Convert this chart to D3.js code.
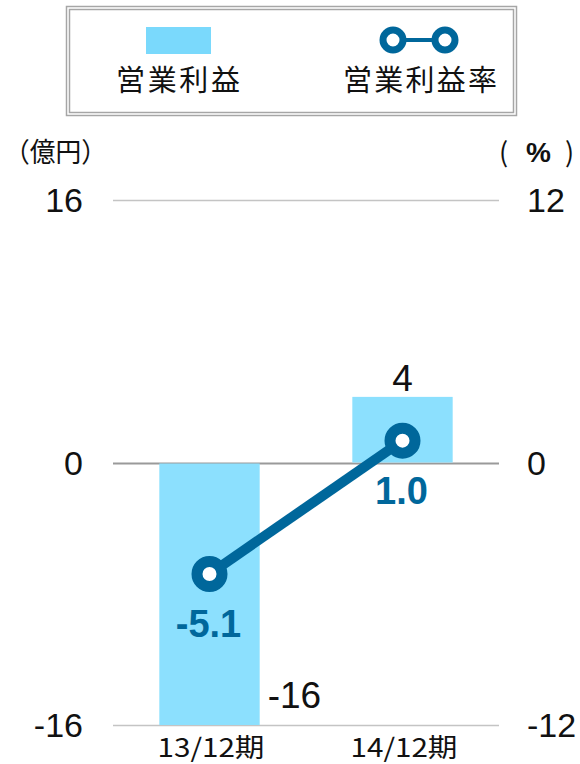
<!DOCTYPE html>
<html>
<head>
<meta charset="utf-8">
<script src="https://cdn.jsdelivr.net/npm/d3@7"></script>
<style>
  html, body { margin: 0; padding: 0; background: #fff; }
  svg { display: block; }
</style>
</head>
<body>
<svg id="chart" width="580" height="764"></svg>
<script>
// Operating profit (億円) and operating margin (%) by fiscal period
const categories = ["13/12期", "14/12期"];
const profit = [-16, 4];
const margin = [-5.1, 1.0];
const leftTicks = [-16, 0, 16];
const rightTicks = [-12, 0, 12];
const seriesNames = ["営業利益", "営業利益率"];

const barColor = "#8ce0fe";
const lineColor = "#00679b";
const numFont = "'Liberation Sans', Arial, sans-serif";
const cjkFont = "'Noto Sans CJK JP', sans-serif";

const svg = d3.select("#chart");

const plot = { left: 113, right: 499, top: 200, bottom: 725 };

const x = d3.scaleBand()
  .domain(categories)
  .range([plot.left, plot.right])
  .paddingInner(0.48)
  .paddingOuter(0.24);

const yL = d3.scaleLinear().domain([-16, 16]).range([plot.bottom, plot.top]);
const yR = d3.scaleLinear().domain([-12, 12]).range([plot.bottom, plot.top]);

// Legend frame (double border)
const lg = svg.append("g");
lg.append("rect").attr("x", 66.5).attr("y", 6.5).attr("width", 450).attr("height", 109)
  .attr("fill", "#fff").attr("stroke", "#a6a6a6").attr("stroke-width", 1.5);
lg.append("rect").attr("x", 69.5).attr("y", 9.5).attr("width", 444).attr("height", 103)
  .attr("fill", "none").attr("stroke", "#a6a6a6").attr("stroke-width", 1.5);

lg.append("rect").attr("x", 146).attr("y", 27).attr("width", 65).attr("height", 27)
  .attr("fill", "#7ad9fc");
lg.append("text").attr("x", 116).attr("y", 91)
  .attr("font-family", cjkFont).attr("font-size", 29).attr("fill", "#111")
  .attr("textLength", 124).attr("lengthAdjust", "spacing")
  .text(seriesNames[0]);

lg.append("line").attr("x1", 393).attr("x2", 445).attr("y1", 40).attr("y2", 40)
  .attr("stroke", lineColor).attr("stroke-width", 4);
[393, 445].forEach(cx => {
  lg.append("circle").attr("cx", cx).attr("cy", 40).attr("r", 10)
    .attr("fill", "#fff").attr("stroke", lineColor).attr("stroke-width", 7);
});
lg.append("text").attr("x", 343).attr("y", 91)
  .attr("font-family", cjkFont).attr("font-size", 29).attr("fill", "#111")
  .attr("textLength", 154).attr("lengthAdjust", "spacing")
  .text(seriesNames[1]);

// Unit labels
svg.append("text").attr("x", 4).attr("y", 162)
  .attr("font-family", cjkFont).attr("font-size", 27).attr("fill", "#111")
  .attr("textLength", 103).attr("lengthAdjust", "spacingAndGlyphs")
  .text("（億円）");
const pct = svg.append("text").attr("y", 162)
  .attr("font-family", cjkFont).attr("font-size", 27).attr("fill", "#111");
pct.append("tspan").attr("x", 499).text("(");
pct.append("tspan").attr("x", 526).attr("font-family", numFont).attr("font-size", 28)
  .attr("font-weight", "bold").text("%");
pct.append("tspan").attr("x", 565).text(")");

// Gridlines
svg.append("g").selectAll("line").data(leftTicks).join("line")
  .attr("x1", plot.left).attr("x2", plot.right)
  .attr("y1", d => Math.round(yL(d)) + 0.5).attr("y2", d => Math.round(yL(d)) + 0.5)
  .attr("stroke", d => d === 0 ? "#9a9a9a" : "#c4c4c4")
  .attr("stroke-width", d => d === 0 ? 2 : 1.5);

// Left axis labels
svg.append("g").selectAll("text").data(leftTicks).join("text")
  .attr("x", 83).attr("y", d => yL(d) + 12)
  .attr("text-anchor", "end")
  .attr("font-family", numFont).attr("font-size", 34).attr("fill", "#111")
  .text(d => d);

// Right axis labels
svg.append("g").selectAll("text").data(rightTicks).join("text")
  .attr("x", 527).attr("y", d => yR(d) + 12)
  .attr("text-anchor", "start")
  .attr("font-family", numFont).attr("font-size", 34).attr("fill", "#111")
  .text(d => d);

// Bars
svg.append("g").selectAll("rect").data(categories).join("rect")
  .attr("x", d => x(d))
  .attr("width", x.bandwidth())
  .attr("y", (d, i) => Math.min(yL(0), yL(profit[i])) + (profit[i] < 0 ? 1 : 0))
  .attr("height", (d, i) => Math.abs(yL(profit[i]) - yL(0)) - (profit[i] < 0 ? 1 : 0))
  .attr("fill", barColor);

// Bar value labels
svg.append("g").selectAll("text").data(categories).join("text")
  .attr("x", (d, i) => profit[i] < 0 ? x(d) + x.bandwidth() + 8 : x(d) + x.bandwidth() / 2)
  .attr("y", (d, i) => profit[i] < 0 ? yL(profit[i]) - 17 : yL(profit[i]) - 6)
  .attr("text-anchor", (d, i) => profit[i] < 0 ? "start" : "middle")
  .attr("font-family", numFont).attr("font-size", 37).attr("fill", "#111")
  .text((d, i) => profit[i]);

// Margin line
const cx = d => x(d) + x.bandwidth() / 2;
const pts = categories.map((c, i) => [cx(c), yR(margin[i])]);
svg.append("path")
  .attr("d", d3.line()(pts))
  .attr("fill", "none").attr("stroke", lineColor).attr("stroke-width", 10);
svg.append("g").selectAll("circle").data(pts).join("circle")
  .attr("cx", d => d[0]).attr("cy", d => d[1]).attr("r", 12.5)
  .attr("fill", "#fff").attr("stroke", lineColor).attr("stroke-width", 11);

// Margin value labels
svg.append("g").selectAll("text").data(categories).join("text")
  .attr("x", d => cx(d) - 1)
  .attr("y", (d, i) => yR(margin[i]) + 63)
  .attr("text-anchor", "middle")
  .attr("font-family", numFont).attr("font-size", 38).attr("font-weight", "bold")
  .attr("fill", lineColor)
  .text((d, i) => margin[i].toFixed(1));

// Category labels (condensed)
svg.append("g").selectAll("text").data(categories).join("text")
  .attr("x", d => cx(d) - 52)
  .attr("y", 757)
  .attr("font-family", cjkFont).attr("font-size", 26).attr("fill", "#111")
  .attr("textLength", 107).attr("lengthAdjust", "spacingAndGlyphs")
  .text(d => d);
</script>
</body>
</html>
